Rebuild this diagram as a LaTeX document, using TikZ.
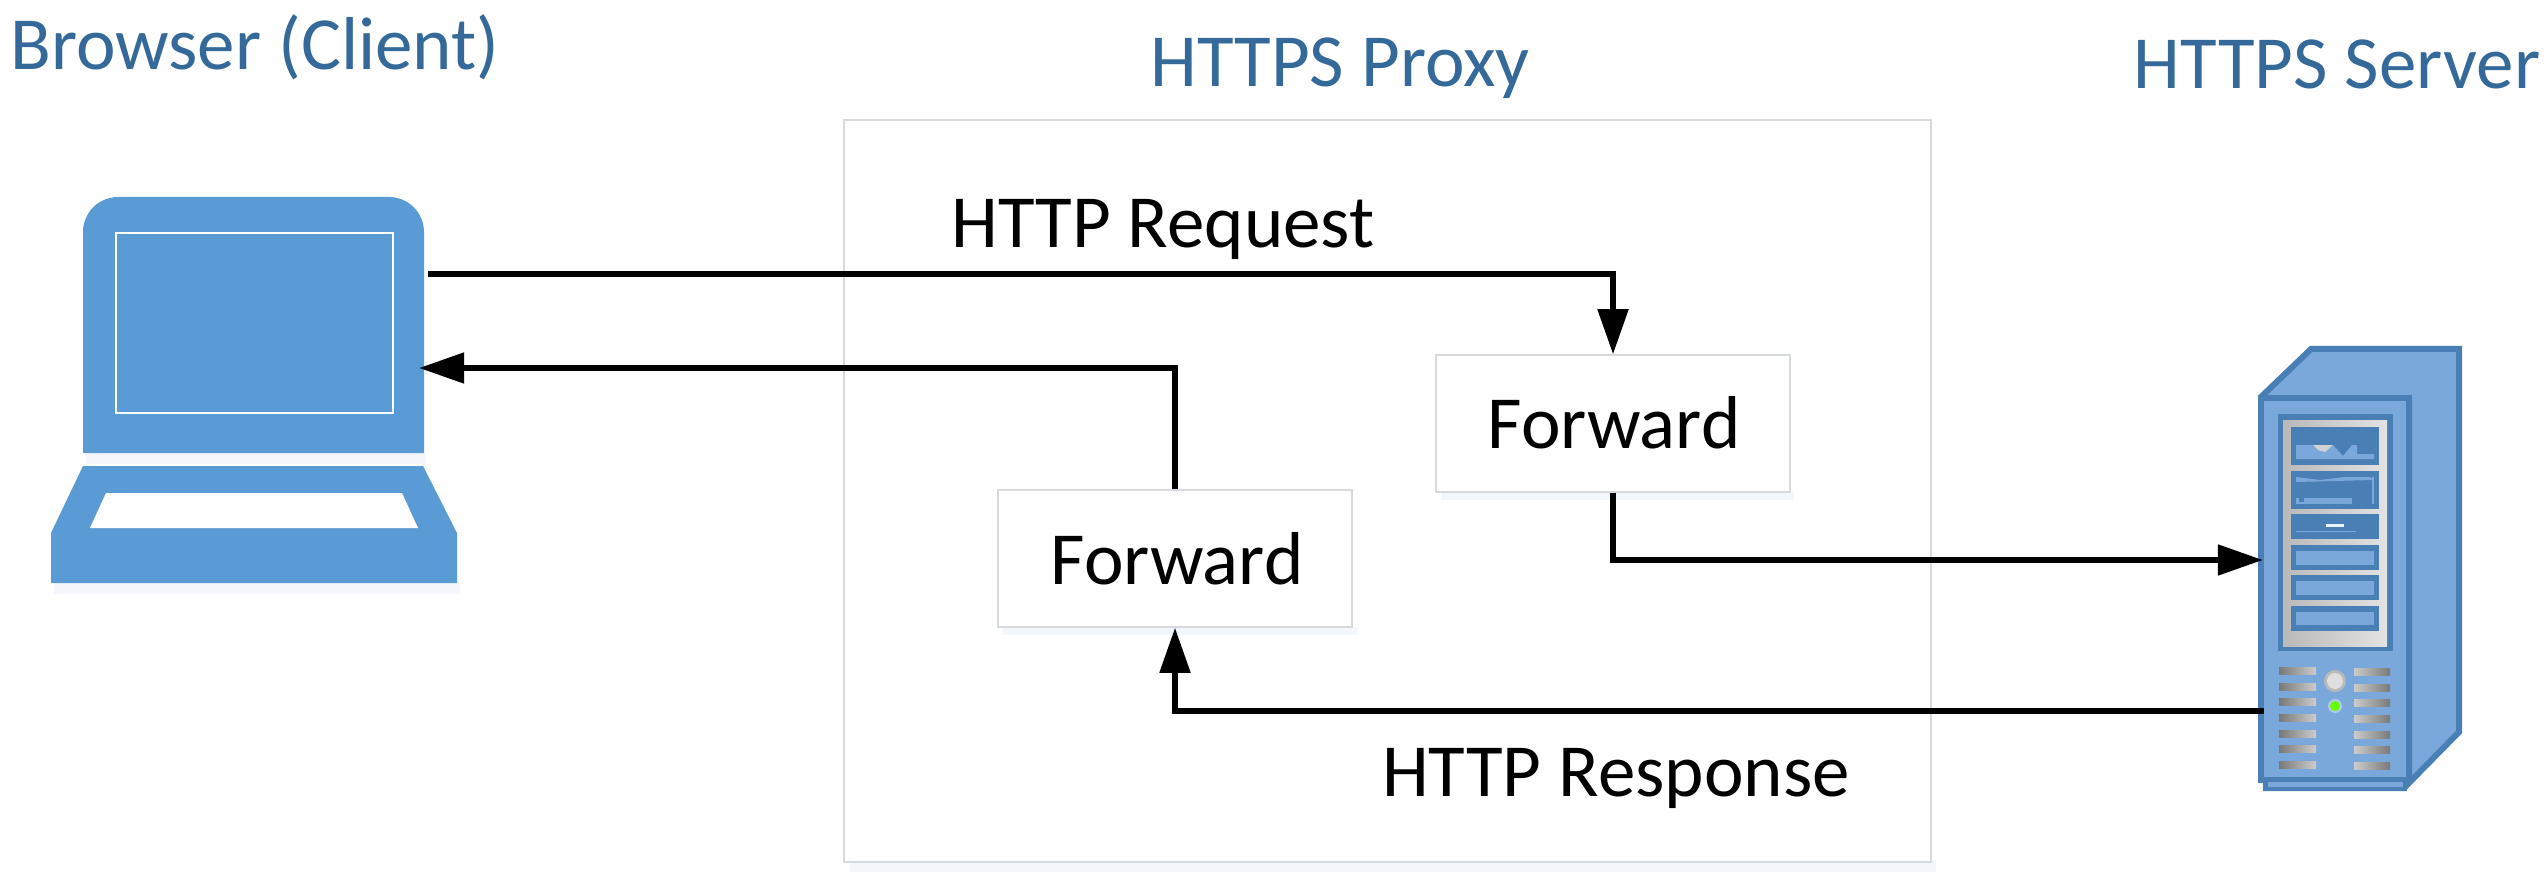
\documentclass[tikz,border=0pt]{standalone}
\usepackage{fontspec}
\setmainfont{Carlito}
\usetikzlibrary{arrows.meta,shapes.geometric,calc}
\definecolor{lapblue}{HTML}{5B9BD5}
\definecolor{titleblue}{HTML}{34699A}
\definecolor{srvdark}{HTML}{4A7FB5}
\definecolor{srvlight}{HTML}{7AA8DB}
\definecolor{boxline}{HTML}{D6DADF}
\definecolor{softshadow}{HTML}{F3F7FB}
\tikzset{
  conn/.style={draw=black,line width=5.2pt,line join=miter},
  tipped/.style={conn,-{Triangle[length=45pt,width=30pt]}},
  titletext/.style={text=titleblue,font=\fontsize{75}{80}\selectfont,inner sep=0pt},
  bodytext/.style={text=black,font=\fontsize{75}{80}\selectfont,inner sep=0pt},
  flatbox/.style={draw=boxline,line width=1.6pt,fill=white,inner sep=0pt,text=black,font=\fontsize{75}{80}\selectfont},
  bay/.style={fill=srvdark},
  bayin/.style={fill=srvlight},
  ventl/.style={left color=gray!95!black,right color=gray!40},
  ventr/.style={left color=gray!40,right color=gray!95!black},
}
\begin{document}
\begin{tikzpicture}[x=1pt,y=-1pt]
\useasboundingbox (0,0) rectangle (2546,882);
\fill[white] (0,0) rectangle (2546,882);

% titles
\node[titletext] (tbrowser) at (255,47) {Browser (Client)};
\node[titletext] (tproxy) at (1340,68) {HTTPS Proxy};
\node[titletext] (tserver) at (2337,64) {HTTPS Server};

% proxy frame
\fill[softshadow] (850,872) rectangle (1936,860);
\node[flatbox,minimum width=1087pt,minimum height=742pt] (proxy) at (1387.5,491) {};

% laptop
\fill[softshadow] (86,453) rectangle (426,464);
\fill[softshadow] (54,583) rectangle (460,594);
\node[inner sep=0pt,minimum width=341pt,minimum height=256pt] (laptop) at (253.5,325) {};
\fill[lapblue] (83,453) -- (83,232) arc[start angle=180,end angle=90,radius=35pt] -- (389,197) arc[start angle=90,end angle=0,radius=35pt] -- (424,453) -- cycle;
\draw[white,line width=1.7pt] (116,233) rectangle (393,413);
\fill[lapblue] (83,466) -- (423,466) -- (457,533) -- (457,583) -- (51,583) -- (51,533) -- cycle;
\fill[white] (106,493) -- (402,493) -- (418,528) -- (90,528) -- cycle;

% server
\node[inner sep=0pt,minimum width=152pt,minimum height=395pt] (server) at (2334,593) {};
\begin{scope}[line join=miter]
\draw[srvdark,fill=srvlight,line width=6pt] (2262,396) -- (2311,349) -- (2459,349) -- (2459,732) -- (2404,788) -- (2266,788) -- cycle;
\draw[srvdark,line width=6pt] (2409,398) -- (2409,782) -- (2404,788);
\draw[srvdark,fill=srvlight,line width=6pt] (2261,398) rectangle (2409,780);
\draw[srvdark,fill=srvlight,line width=3.5pt] (2266,780) rectangle (2405,789);
\end{scope}
\fill[srvdark] (2278,414) rectangle (2393,651);
\shade[left color=gray!55,right color=gray!22] (2283,420) rectangle (2387,646);
\fill[bay] (2291,427) rectangle (2379,465);
\fill[bay] (2291,471) rectangle (2379,509);
\fill[bay] (2291,514) rectangle (2379,539);
\fill[bay] (2291,545) rectangle (2379,570);
\fill[bay] (2291,575) rectangle (2379,600);
\fill[bay] (2291,606) rectangle (2379,631);
\fill[bayin] (2296,551) rectangle (2374,565);
\fill[bayin] (2296,581) rectangle (2374,595);
\fill[bayin] (2296,612) rectangle (2374,625);
\fill[bayin] (2296,445) -- (2296,459) -- (2374,459) -- (2374,454) -- (2357,454) -- (2357,445) -- (2352,445) -- (2343,456) -- (2333,445) -- cycle;
\fill[gray!35] (2313,445) -- (2333,445) -- (2325,452) -- (2318,450) -- cycle;
\fill[bayin] (2296,477) -- (2320,480) -- (2345,477) -- (2370,477) -- (2373,480) -- (2296,482) -- cycle;
\fill[bayin] (2372,477) rectangle (2374,504);
\fill[bayin] (2296,498) rectangle (2299,504);
\fill[bayin] (2304,498) rectangle (2352,504);
\fill[bayin] (2296,502) rectangle (2306,504);
\fill[bayin] (2296,531) rectangle (2356,532);
\fill[white!85!srvlight] (2326,524) rectangle (2344,527);
\foreach \y in {667,683,698,714,730,745,761} {
  \shade[ventl] (2279,\y) rectangle (2316,\y+7);
  \shade[ventr] (2354,\y+1) rectangle (2390,\y+8);
}
\fill[gray!55] (2335,681) circle[radius=11pt];
\fill[gray!25] (2335,681) circle[radius=8pt];
\fill[srvlight!60!white] (2335,706) circle[radius=7pt];
\fill[green!60!yellow] (2335,706) circle[radius=5pt];

% forward boxes
\fill[softshadow] (1441,492) rectangle (1794,500);
\fill[softshadow] (1003,627) rectangle (1357,635);
\node[flatbox,minimum width=354pt,minimum height=137pt] (fwdone) at (1613,423.5) {};
\node[flatbox,minimum width=354pt,minimum height=137pt] (fwdtwo) at (1175,558.5) {};
\node[bodytext] (fwdonetext) at (1614,423) {Forward};
\node[bodytext] (fwdtwotext) at (1177,559) {Forward};

% edge labels
\node[bodytext] (reqlabel) at (1163,229) {HTTP Request};
\node[bodytext] (resplabel) at (1616,778) {HTTP Response};

% attachment points on the icons
\coordinate (reqstart) at ($(laptop.east)+(4,-51)$);
\coordinate (respend) at ($(laptop.east)+(-5,43)$);
\coordinate (srvin) at ($(server.west)+(5,-33)$);
\coordinate (srvout) at ($(server.west)+(6,118)$);

% connectors
\draw[tipped] (reqstart) -| (fwdone.north);
\draw[tipped] (fwdone.south) |- (srvin);
\draw[tipped] (srvout) -| (fwdtwo.south);
\draw[tipped] (fwdtwo.north) |- (respend);
\end{tikzpicture}
\end{document}
